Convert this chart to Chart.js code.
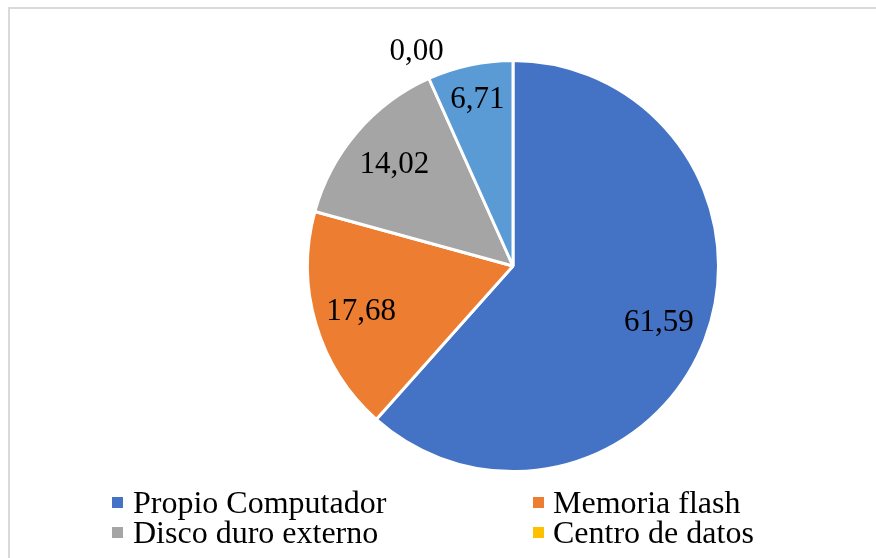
<!DOCTYPE html>
<html>
<head>
<meta charset="UTF-8" />
<script src="https://cdn.jsdelivr.net/npm/chart.js@4"></script>
<style>
  html, body { margin: 0; padding: 0; background: #fff; overflow: hidden; }
  .wrap { position: relative; width: 876px; height: 558px; }
  .frame { position: absolute; left: 8px; top: 7px; width: 900px; height: 600px; border: 2px solid #dadada; box-sizing: border-box; }
  canvas { position: absolute; left: 0; top: 0; }
</style>
</head>
<body>
<div class="wrap">
  <div class="frame"></div>
  <canvas id="pie" width="876" height="558"></canvas>
</div>
<script>
// datos
const categorias = ["Propio Computador", "Memoria flash", "Disco duro externo", "Centro de datos", "Nube"];
const valores = [61.59, 17.68, 14.02, 0.00, 6.71];
const colores = ["#4472C4", "#ED7D31", "#A5A5A5", "#FFC000", "#5B9BD5"];

const fuente = "'Liberation Serif', 'Times New Roman', serif";

// distancia de cada etiqueta al centro (fracción del radio)
const distEtiqueta = [0.76, 0.77, 0.76, 1.145, 0.83];

const etiquetas = {
  id: "etiquetas",
  afterDatasetsDraw(chart) {
    const ctx = chart.ctx;
    const meta = chart.getDatasetMeta(0);
    ctx.save();
    ctx.font = "31px " + fuente;
    ctx.fillStyle = "#000";
    ctx.textAlign = "center";
    ctx.textBaseline = "middle";
    meta.data.forEach((arc, i) => {
      const p = arc.getProps(["x", "y", "startAngle", "endAngle", "outerRadius"], true);
      const mid = (p.startAngle + p.endAngle) / 2;
      const r = p.outerRadius * distEtiqueta[i];
      const txt = valores[i].toFixed(2).replace(".", ",");
      ctx.fillText(txt, p.x + Math.cos(mid) * r, p.y + Math.sin(mid) * r + 1);
    });
    ctx.restore();
  }
};

// leyenda en dos columnas; el original solo deja ver las dos primeras filas
const leyenda = {
  id: "leyenda",
  afterDraw(chart) {
    const ctx = chart.ctx;
    const colX = [112, 533];
    const txtX = [133, 553];
    ctx.save();
    ctx.font = "32px " + fuente;
    ctx.textBaseline = "alphabetic";
    ctx.textAlign = "left";
    categorias.forEach((c, i) => {
      const col = i % 2;
      const row = Math.floor(i / 2);
      if (row > 1) return;
      const base = 513 + row * 30;
      ctx.fillStyle = colores[i];
      ctx.fillRect(colX[col], base - 16, 11, 11);
      ctx.fillStyle = "#000";
      ctx.fillText(c, txtX[col], base);
    });
    ctx.restore();
  }
};

new Chart(document.getElementById("pie"), {
  type: "pie",
  data: {
    labels: categorias,
    datasets: [{
      data: valores,
      backgroundColor: colores,
      borderColor: "#fff",
      borderWidth: 3
    }]
  },
  options: {
    responsive: false,
    animation: false,
    layout: { padding: { left: 306, right: 156, top: 59, bottom: 85 } },
    plugins: {
      legend: { display: false },
      tooltip: { enabled: false }
    }
  },
  plugins: [etiquetas, leyenda]
});
</script>
</body>
</html>
